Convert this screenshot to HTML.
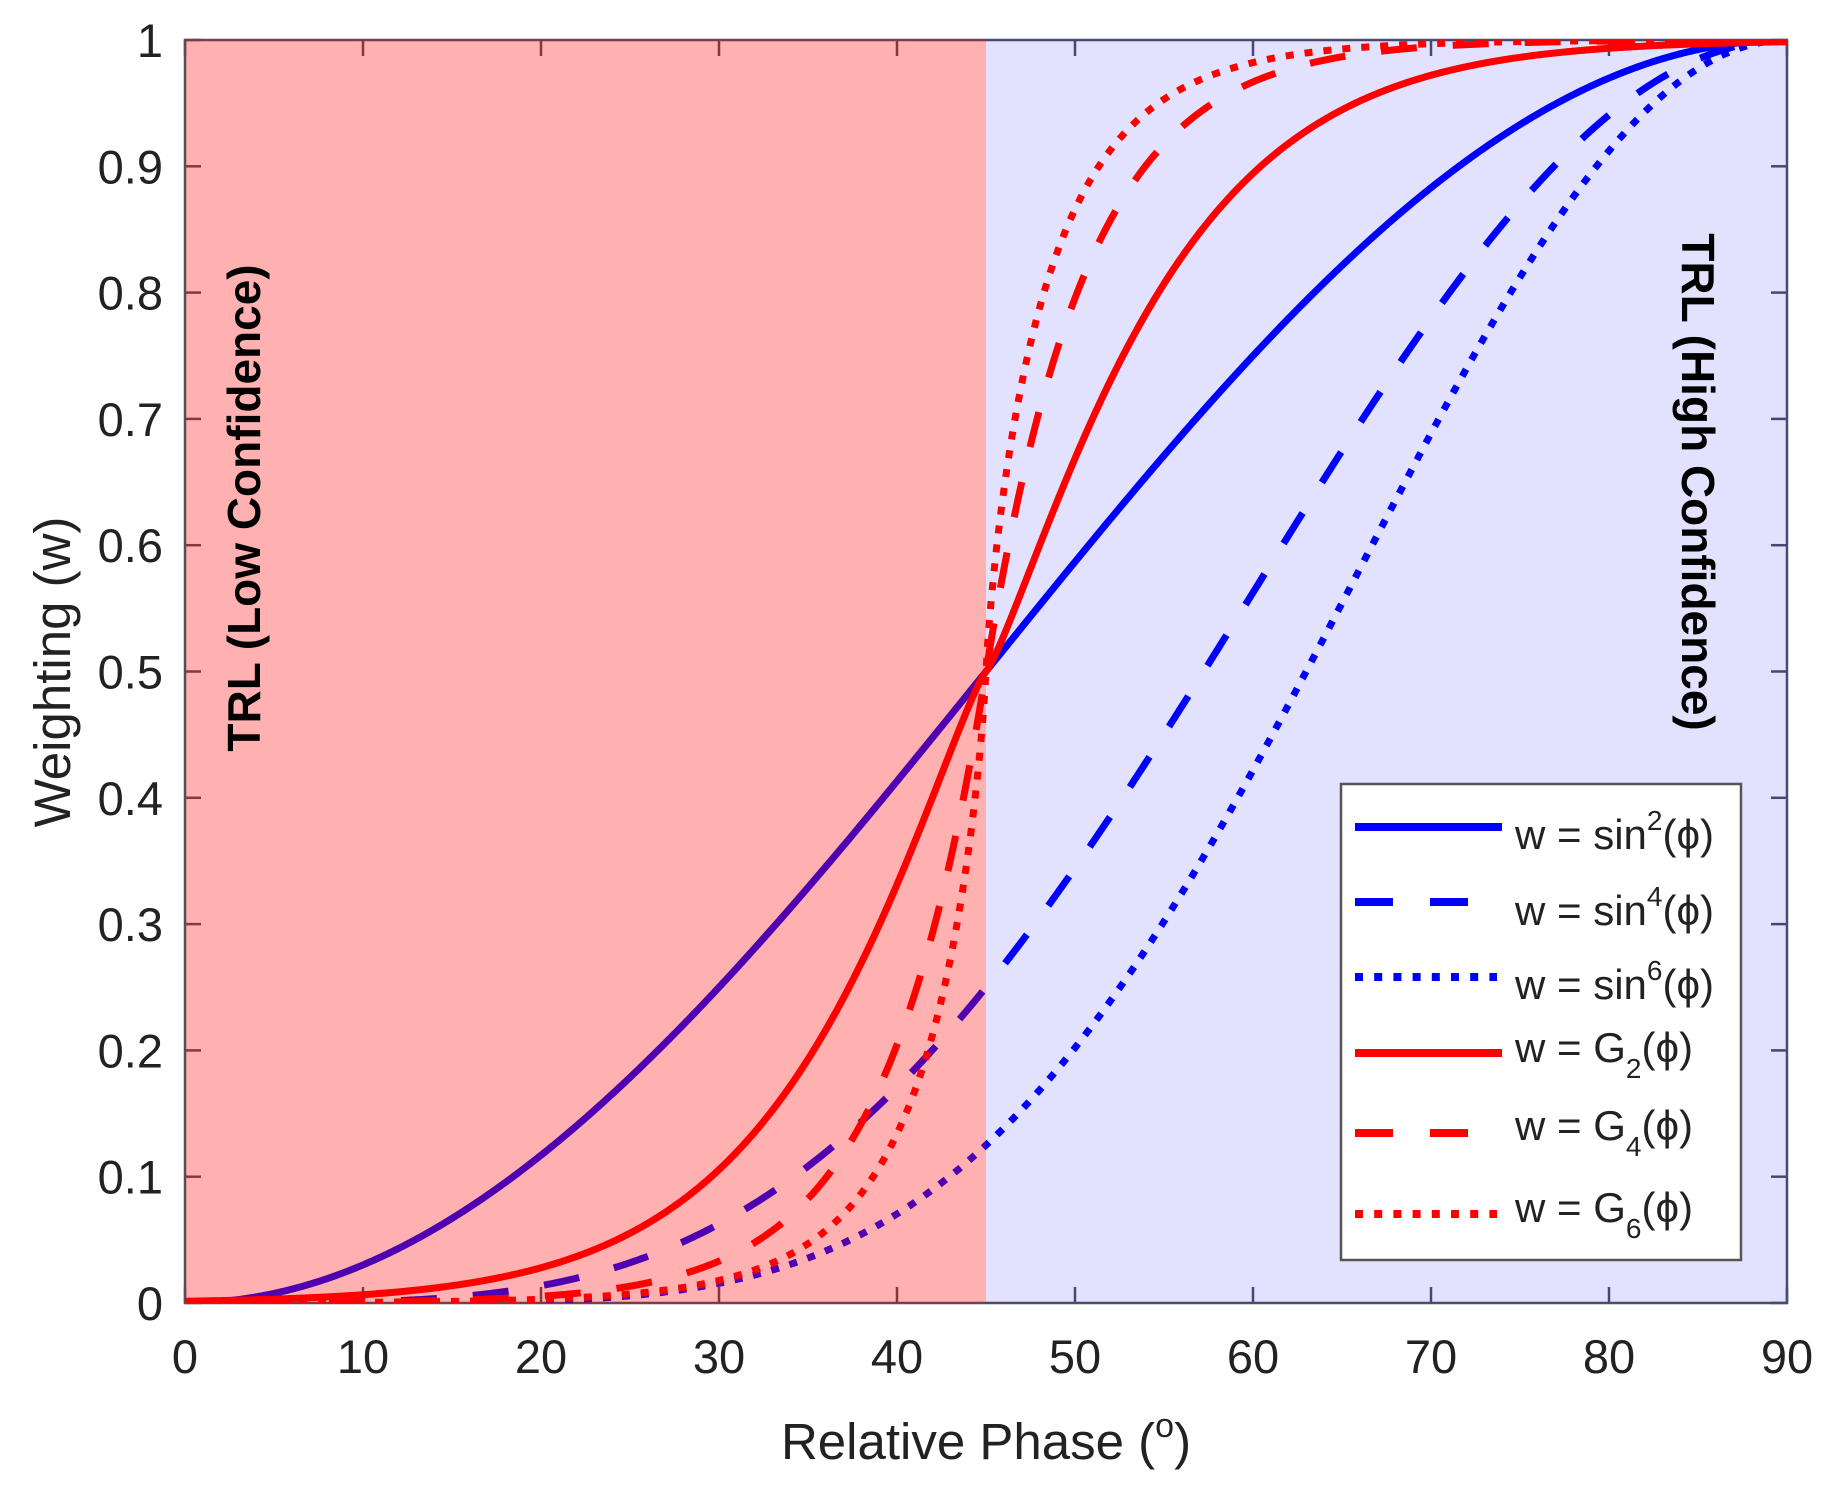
<!DOCTYPE html>
<html><head><meta charset="utf-8"><style>
html,body{margin:0;padding:0;background:#fff}
svg{display:block}
text{font-family:"Liberation Sans",Arial,sans-serif;fill:#222}
</style></head><body>
<svg id="s" width="1831" height="1498" viewBox="0 0 1831 1498" xmlns="http://www.w3.org/2000/svg">
<defs><clipPath id="c"><rect x="185" y="40" width="1602" height="1263"/></clipPath></defs>
<rect x="0" y="0" width="1831" height="1498" fill="#fff"/>
<g id="axes" stroke="#505060" stroke-width="2.5" fill="none"></g>
<g id="blue" clip-path="url(#c)" fill="none" stroke="#0000ff" stroke-width="7"></g>
<rect x="185" y="40" width="801" height="1263" fill="rgba(255,0,0,0.31)"/>
<rect x="986" y="40" width="801" height="1263" fill="rgba(0,0,255,0.115)"/>
<g id="red" clip-path="url(#c)" fill="none" stroke="#ff0000" stroke-width="7"></g>
<g id="labels" font-size="47"></g>
<text x="986" y="1459" font-size="51" text-anchor="middle">Relative Phase (<tspan font-size="34" dy="-22">o</tspan><tspan dy="22">)</tspan></text>
<text transform="translate(70,672) rotate(-90)" font-size="51" text-anchor="middle">Weighting (w)</text>
<text transform="translate(260,508) rotate(-90)" font-size="46" font-weight="bold" text-anchor="middle" style="fill:#000">TRL (Low Confidence)</text>
<text transform="translate(1682,482) rotate(90)" font-size="46" font-weight="bold" text-anchor="middle" style="fill:#000">TRL (High Confidence)</text>
<rect x="1341" y="784" width="400" height="476" fill="#fff" stroke="#555" stroke-width="2.5"/>
<g stroke-width="8" fill="none">
<line x1="1355" y1="827" x2="1502" y2="827" stroke="#0000ff"/>
<line x1="1355" y1="902" x2="1502" y2="902" stroke="#0000ff" stroke-dasharray="38,37"/>
<line x1="1355" y1="977" x2="1497" y2="977" stroke="#0000ff" stroke-dasharray="8,11.2"/>
<line x1="1355" y1="1053" x2="1502" y2="1053" stroke="#ff0000"/>
<line x1="1355" y1="1133" x2="1502" y2="1133" stroke="#ff0000" stroke-dasharray="38,37"/>
<line x1="1355" y1="1214" x2="1497" y2="1214" stroke="#ff0000" stroke-dasharray="8,11.2"/>
</g>
<g font-size="42">
<text x="1515" y="849">w = sin<tspan font-size="28" dy="-19">2</tspan><tspan dy="19">(ϕ)</tspan></text>
<text x="1515" y="925">w = sin<tspan font-size="28" dy="-19">4</tspan><tspan dy="19">(ϕ)</tspan></text>
<text x="1515" y="999">w = sin<tspan font-size="28" dy="-19">6</tspan><tspan dy="19">(ϕ)</tspan></text>
<text x="1515" y="1062">w = G<tspan font-size="28" dy="16">2</tspan><tspan dy="-16">(ϕ)</tspan></text>
<text x="1515" y="1140">w = G<tspan font-size="28" dy="16">4</tspan><tspan dy="-16">(ϕ)</tspan></text>
<text x="1515" y="1222">w = G<tspan font-size="28" dy="16">6</tspan><tspan dy="-16">(ϕ)</tspan></text>
</g>
</svg>
<script>
(function(){
var NS="http://www.w3.org/2000/svg";
function X(p){return 185+p*1602/90;}
function Y(v){return 1303-v*1263;}
function el(g,tag,attrs,txt){var e=document.createElementNS(NS,tag);for(var k in attrs)e.setAttribute(k,attrs[k]);if(txt!=null)e.textContent=txt;document.getElementById(g).appendChild(e);return e;}
var ax="axes";
el(ax,"rect",{x:185,y:40,width:1602,height:1263});
for(var i=0;i<=9;i++){var x=X(i*10);
 el(ax,"line",{x1:x,y1:1303,x2:x,y2:1287});el(ax,"line",{x1:x,y1:40,x2:x,y2:56});
 el("labels","text",{x:x,y:1373,"text-anchor":"middle"},String(i*10));}
for(var j=0;j<=10;j++){var y=Y(j/10);
 el(ax,"line",{x1:185,y1:y,x2:201,y2:y});el(ax,"line",{x1:1787,y1:y,x2:1771,y2:y});
 el("labels","text",{x:163,y:y+17,"text-anchor":"end"},j==0?"0":(j==10?"1":"0."+j));}
function path(f){var d="";for(var k=0;k<=900;k++){var p=k*0.1;var v=f(p);d+=(k?"L":"M")+X(p).toFixed(2)+","+Y(v).toFixed(2);}return d;}
var r=Math.PI/180;
function S(n){return function(p){return Math.pow(Math.sin(p*r),n);};}
function G(k,a){return function(p){var d=Math.abs(45-p);var h=0.5*Math.exp(-k*Math.pow(d,a));return p<=45?h:1-h;};}
var da=["", "36,36", "8,11"];
var pars=[[0.0587,1.21],[0.176,1.01],[0.338,0.845]];
[2,4,6].forEach(function(n,i){
 var a={d:path(S(n))};if(da[i])a["stroke-dasharray"]=da[i];el("blue","path",a);
 var b={d:path(G(pars[i][0],pars[i][1]))};if(da[i])b["stroke-dasharray"]=da[i];el("red","path",b);
});
})();
</script>
</body></html>
